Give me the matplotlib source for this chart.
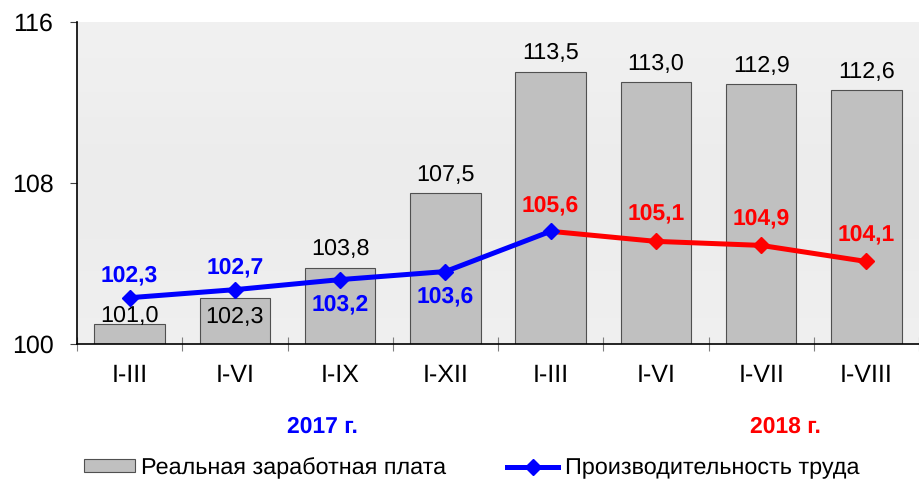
import matplotlib
matplotlib.use("Agg")
import matplotlib.pyplot as plt
import numpy as np
from matplotlib.lines import Line2D
from matplotlib.patches import Patch

plt.rcParams['font.family'] = ['Liberation Sans', 'DejaVu Sans']
plt.rcParams['text.hinting'] = 'no_hinting'

# data
periods = ["I-III", "I-VI", "I-IX", "I-XII", "I-III", "I-VI", "I-VII", "I-VIII"]
wages = [101.0, 102.3, 103.8, 107.5, 113.5, 113.0, 112.9, 112.6]
productivity = [102.3, 102.7, 103.2, 103.6, 105.6, 105.1, 104.9, 104.1]
years = ["2017 г.", "2018 г."]
split = 4  # last blue point (I-III 2018)

# label offsets in pixels (+ = above point)
prod_offsets = [22, 22, -25, -25, 26, 28, 27, 27]
wage_offsets = [2, -25, 12, 12, 13, 12, 12, 12]

fig = plt.figure(figsize=(9.19, 4.8), dpi=100)
ax = fig.add_axes([77 / 919, 136 / 480, 1 - 77 / 919, (344 - 22) / 480])

x = np.arange(len(periods))

# soft vertical gradient for the plot background
grad = np.array([[0.94], [0.915], [0.935]])
ax.imshow(grad, cmap='gray', vmin=0, vmax=1, aspect='auto',
          extent=[-0.5, len(periods) - 0.5, 100, 116], zorder=0,
          interpolation='bicubic')

ax.bar(x, np.array(wages) - 100, bottom=100, width=0.67,
       color='#c0c0c0', edgecolor='#505050', linewidth=0.8, zorder=2)

for i, v in enumerate(wages):
    txt = f"{v:.1f}".replace('.', ',')
    ax.annotate(txt, (i, v), xytext=(0, wage_offsets[i]),
                textcoords='offset pixels', ha='center', va='baseline',
                fontsize=16.8, zorder=5)

ax.plot(x[:split + 1], productivity[:split + 1], color='#0000ff', lw=3.6,
        zorder=3, solid_capstyle='butt')
ax.plot(x[split:], productivity[split:], color='#ff0000', lw=3.6,
        zorder=3, solid_capstyle='butt')
ax.plot(x[split + 1:], productivity[split + 1:], ls='none', marker='D',
        ms=8, color='#ff0000', zorder=4)
ax.plot(x[:split + 1], productivity[:split + 1], ls='none', marker='D',
        ms=8, color='#0000ff', zorder=4)

for i, v in enumerate(productivity):
    col = '#0000ff' if i < split else '#ff0000'
    ax.annotate(f"{v:.1f}".replace('.', ','), (i, v), xytext=(0, prod_offsets[i]),
                textcoords='offset pixels', ha='center', va='center',
                fontsize=16.5, fontweight='bold', color=col, zorder=5)

ax.set_xlim(-0.5, len(periods) - 0.5)
ax.set_ylim(100, 116)
ax.set_yticks([100, 108, 116])
ax.set_xticks(x)
ax.set_xticklabels(periods)
ax.set_xticks(np.arange(-0.5, len(periods)), minor=True)
ax.tick_params(axis='x', which='major', length=0, pad=14, labelsize=18)
ax.tick_params(axis='x', which='minor', length=10, direction='inout',
               width=0.8, color='#808080')
ax.tick_params(axis='y', length=5, width=0.8, pad=12, labelsize=18,
               color='#404040')

for s in ('top', 'right'):
    ax.spines[s].set_visible(False)
ax.spines['left'].set_linewidth(1.2)
ax.spines['bottom'].set_linewidth(1.2)

fig.text(322 / 919, 1 - 427 / 480, years[0], color='#0000ff', fontsize=16.5,
         fontweight='bold', ha='center', va='center')
fig.text(785 / 919, 1 - 427 / 480, years[1], color='#ff0000', fontsize=16.5,
         fontweight='bold', ha='center', va='center')

handles = [Patch(facecolor='#c0c0c0', edgecolor='#505050', linewidth=0.8),
           Line2D([], [], color='#0000ff', lw=3.6, marker='D', ms=8)]
fig.legend(handles, ["Реальная заработная плата", "Производительность труда"],
           loc='center left', bbox_to_anchor=(84 / 919, 1 - 468 / 480),
           ncol=2, frameon=False, fontsize=16.8, handlelength=2.2,
           handleheight=0.45, handletextpad=0.26, columnspacing=2.6,
           borderpad=0, borderaxespad=0)

fig.savefig("out.png", dpi=100)
